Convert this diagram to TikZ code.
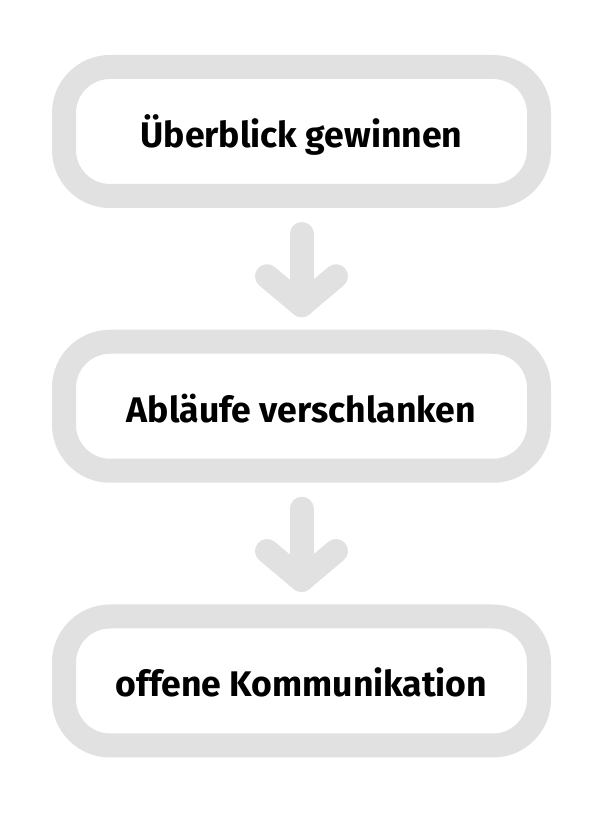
\documentclass[tikz,border=0pt]{standalone}
\usepackage{fontspec}
\setmainfont{Fira Sans}[BoldFont={Fira Sans Bold}]
\usetikzlibrary{calc}
\definecolor{boxgray}{RGB}{225,225,225}
\tikzset{
  stepbox/.style={draw=boxgray, line width=24pt, rounded corners=46pt,
    minimum width=475pt, minimum height=129pt, inner sep=0pt,
    text height=32pt, text depth=0pt, align=center,
    font=\fontsize{35.6}{42}\selectfont\bfseries, text=black},
  arrowline/.style={draw=boxgray, line width=24pt, line cap=round, line join=round}
}
\begin{document}
\begin{tikzpicture}[x=1pt,y=1pt]
\useasboundingbox (0,0) rectangle (594,815);
\node[stepbox] (b1) at (301.5,683.5) {Überblick gewinnen};
\node[stepbox] (b2) at (301.5,408.75) {Abläufe verschlanken};
\node[stepbox] (b3) at (301.5,134) {offene Kommunikation};
\coordinate (a1top) at ($(b1.south)+(0,-26)$);
\coordinate (a1tip) at ($(b2.north)+(0,24.5)$);
\coordinate (a2top) at ($(b2.south)+(0,-26)$);
\coordinate (a2tip) at ($(b3.north)+(0,24.5)$);
\draw[arrowline] (a1top) -- (a1tip);
\draw[arrowline] ($(a1tip)+(-34.5,29)$) -- (a1tip) -- ($(a1tip)+(34.5,29)$);
\draw[arrowline] (a2top) -- (a2tip);
\draw[arrowline] ($(a2tip)+(-34.5,29)$) -- (a2tip) -- ($(a2tip)+(34.5,29)$);
\end{tikzpicture}
\end{document}
